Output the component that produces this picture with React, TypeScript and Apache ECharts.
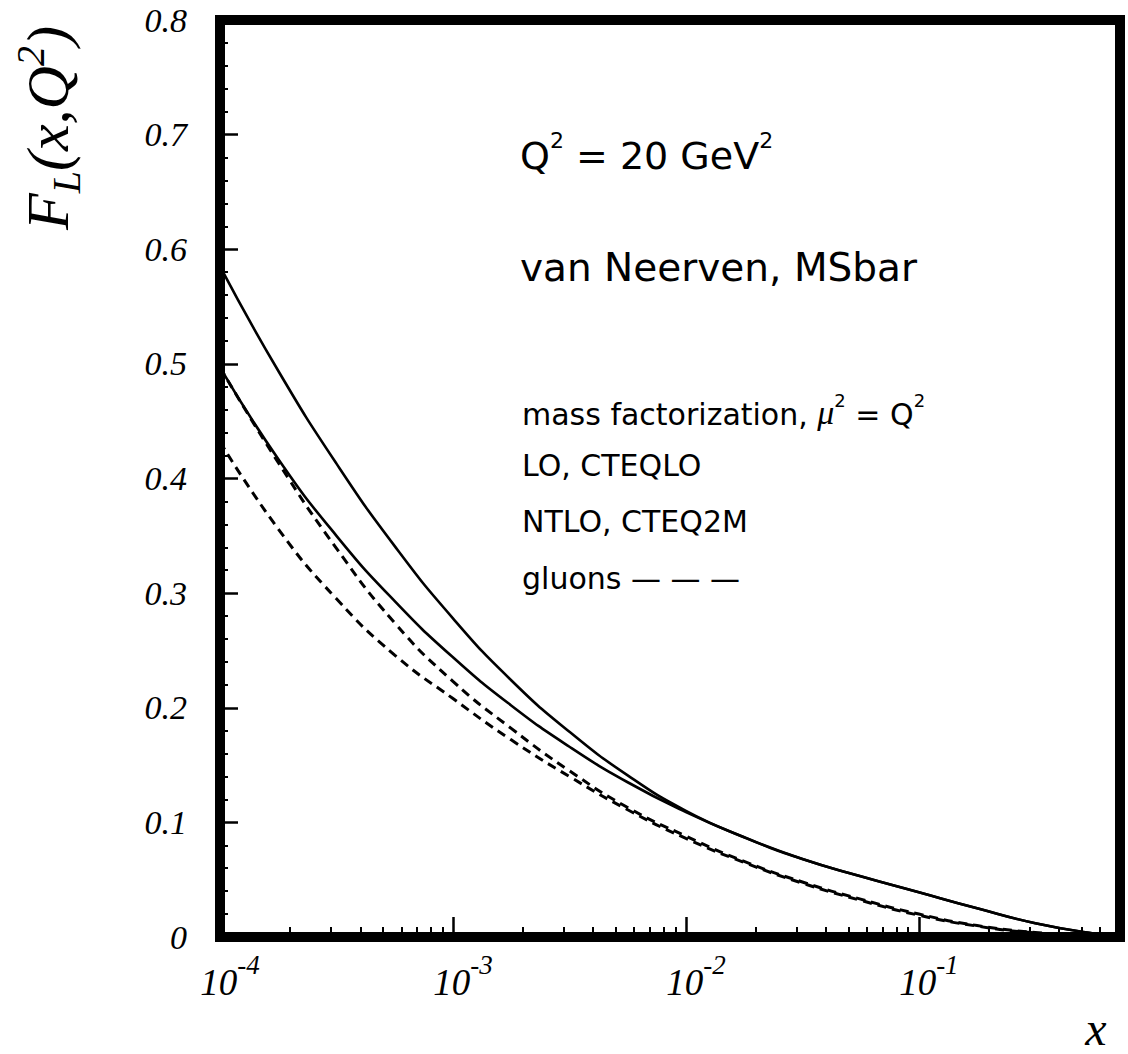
import React, { useEffect, useRef } from 'react';
import * as echarts from 'echarts';

// x positions (Bjorken x, quarter-decade steps) at which the curves were read
const xValues = [1e-4, 1.778e-4, 3.162e-4, 5.623e-4, 1e-3, 1.778e-3, 3.162e-3, 5.623e-3, 1e-2, 1.778e-2, 3.162e-2, 5.623e-2, 1e-1, 0.1778, 0.3162, 0.5623, 0.73];

// F_L(x,Q^2), solid curves
const solidUpper = [0.585, 0.494, 0.413, 0.341, 0.278, 0.224, 0.179, 0.141, 0.110, 0.087, 0.068, 0.053, 0.039, 0.025, 0.012, 0.003, 0.001];
const solidLower = [0.497, 0.417, 0.350, 0.293, 0.244, 0.202, 0.166, 0.135, 0.109, 0.087, 0.068, 0.053, 0.039, 0.025, 0.012, 0.003, 0.001];
// gluon contributions, dashed curves
const dashedUpper = [0.497, 0.414, 0.339, 0.274, 0.223, 0.182, 0.145, 0.113, 0.088, 0.066, 0.048, 0.033, 0.020, 0.010, 0.004, 0.001, 0.0];
const dashedLower = [0.432, 0.356, 0.295, 0.246, 0.208, 0.172, 0.140, 0.111, 0.086, 0.065, 0.047, 0.032, 0.019, 0.0095, 0.0035, 0.001, 0.0];

const xMin = 1e-4;
const xMax = 0.73;
const xMajorTicks = [1e-4, 1e-3, 1e-2, 1e-1];
const xMinorTicks = [
  2e-4, 3e-4, 4e-4, 5e-4, 6e-4, 7e-4, 8e-4, 9e-4,
  2e-3, 3e-3, 4e-3, 5e-3, 6e-3, 7e-3, 8e-3, 9e-3,
  2e-2, 3e-2, 4e-2, 5e-2, 6e-2, 7e-2, 8e-2, 9e-2,
  2e-1, 3e-1, 4e-1, 5e-1, 6e-1, 7e-1,
];
const yMin = 0;
const yMax = 0.8;
const yStep = 0.1;

const infoLines = ['LO, CTEQLO', 'NTLO, CTEQ2M'];

const zip = (ys: number[]) => xValues.map((x, i) => [x, ys[i]]);

const SERIF = '"Liberation Serif", "Times New Roman", serif';
const SANS = '"DejaVu Sans", sans-serif';

export default function App() {
  const ref = useRef<HTMLDivElement>(null);
  useEffect(() => {
    if (!ref.current) return;
    const chart = echarts.init(ref.current, null, { renderer: 'svg' });
    const lineBase = { type: 'line', symbol: 'none', smooth: 0.5, silent: true, xAxisIndex: 0, yAxisIndex: 0 } as any;
    chart.setOption({
      animation: false,
      backgroundColor: '#fff',
      grid: {
        left: 220, right: 8, top: 20, bottom: 117,
        show: true, borderColor: '#000', borderWidth: 10, backgroundColor: 'transparent',
      },
      xAxis: [
        {
          type: 'log', min: xMin, max: xMax, logBase: 10,
          axisLine: { show: true, onZero: false, lineStyle: { color: '#000', width: 8 } },
          axisTick: { show: true, inside: true, length: 20, lineStyle: { color: '#000', width: 2.5 }, customValues: xMajorTicks },
          axisLabel: {
            customValues: xMajorTicks,
            margin: 14,
            padding: [0, 0, 0, 20],
            formatter: (v: number) => `{b|10}{s|${Math.round(Math.log10(v))}}`,
            rich: {
              b: { fontFamily: SERIF, fontStyle: 'italic', fontSize: 37, color: '#000', lineHeight: 50, verticalAlign: 'bottom' },
              s: { fontFamily: SERIF, fontStyle: 'italic', fontSize: 27, color: '#000', lineHeight: 27, verticalAlign: 'top' },
            },
          },
          splitLine: { show: false },
        },
        {
          type: 'log', min: xMin, max: xMax, logBase: 10, position: 'bottom',
          axisLine: { show: false },
          axisTick: { show: true, inside: true, length: 10, lineStyle: { color: '#000', width: 2 }, customValues: xMinorTicks },
          axisLabel: { show: false },
          splitLine: { show: false },
        },
      ],
      yAxis: {
        type: 'value', min: yMin, max: yMax, interval: yStep,
        axisLine: { show: true, lineStyle: { color: '#000', width: 10 } },
        axisTick: { show: true, inside: true, length: 18, lineStyle: { color: '#000', width: 2.5 } },
        minorTick: { show: true, splitNumber: 5, length: 8, lineStyle: { color: '#000', width: 2 } },
        axisLabel: { margin: 33, fontFamily: SERIF, fontStyle: 'italic', fontSize: 34, color: '#000' },
        splitLine: { show: false },
      },
      series: [
        { ...lineBase, name: 'solid upper', data: zip(solidUpper), lineStyle: { color: '#000', width: 2.6 } },
        { ...lineBase, name: 'solid lower', data: zip(solidLower), lineStyle: { color: '#000', width: 2.6 } },
        { ...lineBase, name: 'gluons upper', data: zip(dashedUpper), lineStyle: { color: '#000', width: 3, type: [9, 6] } },
        { ...lineBase, name: 'gluons lower', data: zip(dashedLower), lineStyle: { color: '#000', width: 3, type: [9, 6] } },
      ],
      graphic: [
        {
          type: 'text', x: 48, y: 128, rotation: Math.PI / 2,
          style: {
            text: '{f|F}{l|L}{f|(x,Q}{p|2}{f|)}',
            align: 'center', verticalAlign: 'middle',
            rich: {
              f: { fontFamily: SERIF, fontStyle: 'italic', fontSize: 60, fill: '#000', lineHeight: 76, verticalAlign: 'middle' },
              l: { fontFamily: SERIF, fontStyle: 'italic', fontSize: 40, fill: '#000', lineHeight: 40, verticalAlign: 'bottom' },
              p: { fontFamily: SERIF, fontStyle: 'italic', fontSize: 40, fill: '#000', lineHeight: 40, verticalAlign: 'top' },
            },
          },
        },
        {
          type: 'text', x: 520, y: 152,
          style: {
            text: '{n|Q}{p|2}{n| = 20 GeV}{p|2}',
            verticalAlign: 'middle',
            rich: {
              n: { fontFamily: SANS, fontSize: 38, fill: '#000', lineHeight: 46, verticalAlign: 'bottom' },
              p: { fontFamily: SANS, fontSize: 22, fill: '#000', lineHeight: 30, verticalAlign: 'top' },
            },
          },
        },
        {
          type: 'text', x: 520, y: 267,
          style: { text: 'van Neerven, MSbar', fontFamily: SANS, fontSize: 39, fill: '#000', verticalAlign: 'middle' },
        },
        {
          type: 'text', x: 522, y: 410,
          style: {
            text: '{n|mass factorization, }{m|μ}{p|2}{n| = Q}{p|2}',
            verticalAlign: 'middle',
            rich: {
              n: { fontFamily: SANS, fontSize: 30, fill: '#000', lineHeight: 38, verticalAlign: 'bottom' },
              m: { fontFamily: SERIF, fontStyle: 'italic', fontSize: 34, fill: '#000', lineHeight: 38, verticalAlign: 'bottom' },
              p: { fontFamily: SANS, fontSize: 18, fill: '#000', lineHeight: 24, verticalAlign: 'top' },
            },
          },
        },
        {
          type: 'text', x: 522, y: 465,
          style: { text: infoLines[0], fontFamily: SANS, fontSize: 30, fill: '#000', verticalAlign: 'middle' },
        },
        {
          type: 'text', x: 522, y: 521,
          style: { text: infoLines[1], fontFamily: SANS, fontSize: 30, fill: '#000', verticalAlign: 'middle' },
        },
        {
          type: 'text', x: 522, y: 578,
          style: { text: 'gluons — — —', fontFamily: SANS, fontSize: 30, fill: '#000', verticalAlign: 'middle' },
        },
        {
          type: 'text', x: 1096, y: 1028,
          style: { text: 'x', fontFamily: SERIF, fontStyle: 'italic', fontSize: 48, fill: '#000', align: 'center', verticalAlign: 'middle' },
        },
      ],
    });
    return () => chart.dispose();
  }, []);
  return <div ref={ref} style={{ position: 'fixed', left: 0, top: 0, width: 1128, height: 1054 }} />;
}
